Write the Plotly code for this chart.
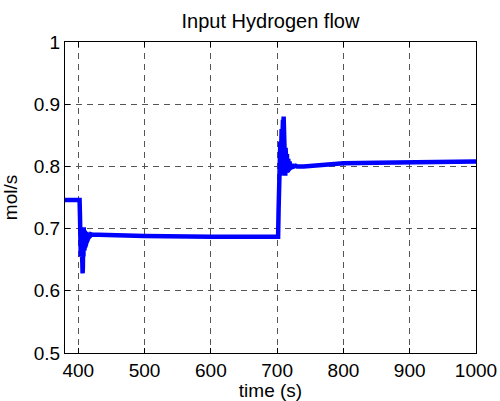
import plotly.graph_objects as go

time_s = [380, 402, 402.6, 403.0, 403.4, 403.8, 404.2, 404.6, 405.0, 405.4, 405.8, 406.2, 406.6, 407.0,
          407.4, 407.8, 408.2, 408.6, 409.0, 409.4, 409.8, 410.2, 410.6, 411.0, 411.4, 411.8, 412.2,
          412.6, 413.0, 413.4, 413.8, 414.2, 414.6, 415.0, 415.5, 416.0, 416.5, 417.0, 417.5, 418.0,
          419, 420, 422, 430, 450, 500, 600, 700,
          701.5, 702.2, 702.8, 703.3, 703.8, 704.3, 704.8, 705.3, 705.8, 706.3, 706.8, 707.3, 707.8,
          708.3, 708.8, 709.3, 709.8, 710.3, 710.8, 711.3, 711.8, 712.3, 712.8, 713.3, 713.8, 714.3,
          714.8, 715.3, 715.8, 716.3, 716.8, 717.3, 717.8, 718.3, 718.8, 719.4, 720, 721, 722, 723,
          724.5, 726, 728, 730, 740, 760, 800, 850, 900, 950, 1000]
flow = [0.746, 0.746, 0.72, 0.68, 0.70, 0.655, 0.70, 0.66, 0.69, 0.645, 0.69, 0.635, 0.628, 0.64,
        0.70, 0.655, 0.702, 0.66, 0.698, 0.665, 0.697, 0.67, 0.696, 0.672, 0.695, 0.675, 0.695,
        0.678, 0.694, 0.68, 0.694, 0.682, 0.693, 0.684, 0.693, 0.686, 0.692, 0.687, 0.691, 0.688,
        0.691, 0.690, 0.690, 0.690, 0.689, 0.688, 0.687, 0.687,
        0.687, 0.73, 0.80, 0.775, 0.83, 0.78, 0.84, 0.785, 0.85, 0.80, 0.86, 0.82, 0.87,
        0.84, 0.875, 0.85, 0.88, 0.84, 0.86, 0.79, 0.84, 0.785, 0.83, 0.79, 0.825, 0.79,
        0.82, 0.792, 0.815, 0.793, 0.812, 0.795, 0.81, 0.796, 0.808, 0.797, 0.806, 0.798, 0.804, 0.799,
        0.803, 0.800, 0.801, 0.800, 0.800, 0.802, 0.805, 0.806, 0.807, 0.807, 0.808]

x_ticks = [400, 500, 600, 700, 800, 900, 1000]
y_ticks = [0.5, 0.6, 0.7, 0.8, 0.9, 1.0]
y_tick_text = ["0.5", "0.6", "0.7", "0.8", "0.9", "1"]

FONT = "Liberation Sans, Arial, sans-serif"
FS = 19

fig = go.Figure(go.Scatter(x=time_s, y=flow, mode="lines",
                           line=dict(color="#0000ff", width=4.5), showlegend=False))

axis_common = dict(showline=True, linecolor="black", linewidth=1, mirror="ticks",
                   ticks="inside", ticklen=5, tickcolor="black", automargin=False,
                   showgrid=True, gridcolor="#555555", gridwidth=1, griddash="6px,5px",
                   zeroline=False, tickfont=dict(family=FONT, size=FS, color="black"))

fig.update_layout(
    width=500, height=401,
    margin=dict(l=65, r=24, t=42, b=48),
    paper_bgcolor="white", plot_bgcolor="white",
    title=dict(text="Input Hydrogen flow", x=0.5, xref="paper", xanchor="center",
               y=1 - 21 / 401, yanchor="middle",
               font=dict(family=FONT, size=20, color="black")),
    xaxis=dict(range=[380, 1000], tickvals=x_ticks, ticktext=[str(v) for v in x_ticks],
               title=dict(text="time (s)", font=dict(family=FONT, size=FS, color="black")),
               **axis_common),
    yaxis=dict(range=[0.5, 1.0], tickvals=y_ticks, ticktext=y_tick_text,
               title=dict(text="mol/s", font=dict(family=FONT, size=FS, color="black")),
               **axis_common),
)

fig.write_html("out.html")
